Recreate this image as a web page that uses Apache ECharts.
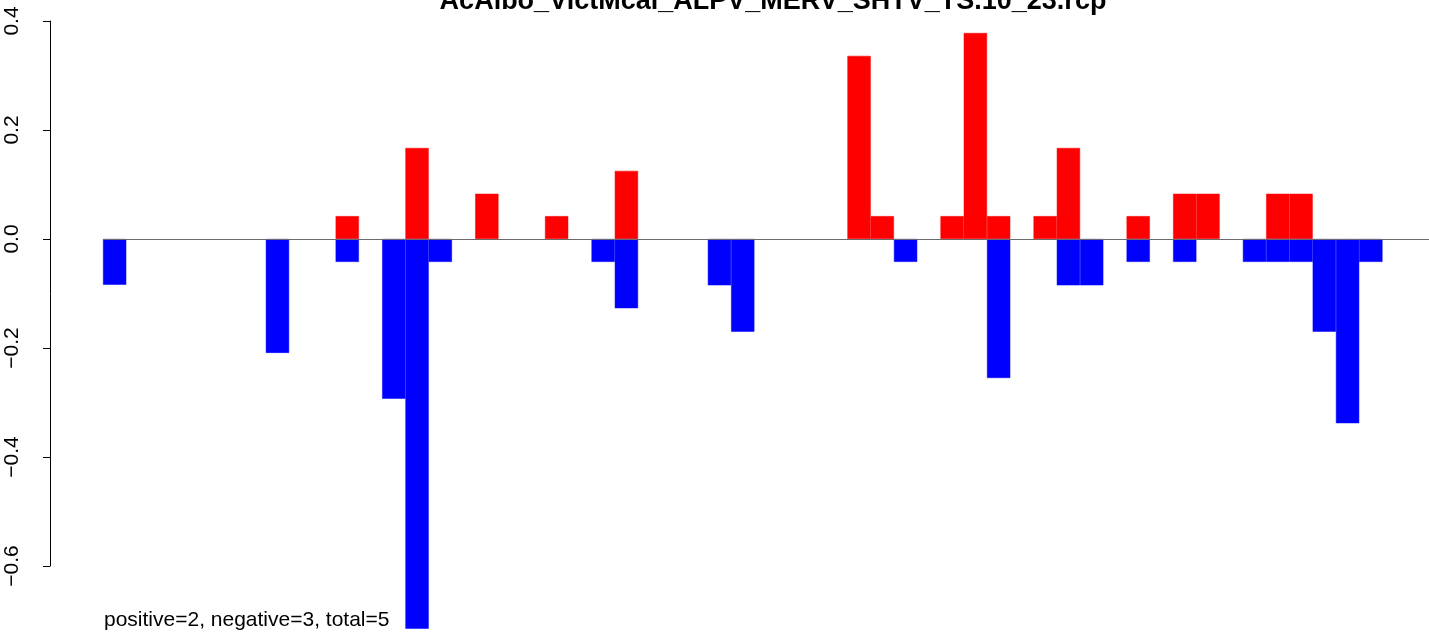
<!DOCTYPE html>
<html>
<head>
<meta charset="utf-8">
<script src="https://cdn.jsdelivr.net/npm/echarts@6/dist/echarts.min.js"></script>
<style>
html,body{margin:0;padding:0;background:#fff;}
#chart{width:1429px;height:634px;}
</style>
</head>
<body>
<div id="chart"></div>
<script>
// ---- data ----
var titleText = "AcAlbo_VictMcal_ALPV_MERV_SHTV_TS.10_23.rcp";
var noteText = "positive=2, negative=3, total=5";
var categories = [];
for (var i = 1; i <= 57; i++) categories.push(String(i));
var positiveValues = [
  0, 0, 0, 0, 0, 0, 0, 0, 0, 0,
  0.042, 0, 0, 0.167, 0, 0, 0.083, 0, 0, 0.042,
  0, 0, 0.125, 0, 0, 0, 0, 0, 0, 0,
  0, 0, 0.336, 0.042, 0, 0, 0.042, 0.378, 0.042, 0,
  0.042, 0.167, 0, 0, 0.042, 0, 0.083, 0.083, 0, 0,
  0.083, 0.083, 0, 0, 0, 0, 0
];
var negativeValues = [
  -0.084, 0, 0, 0, 0, 0, 0, -0.209, 0, 0,
  -0.042, 0, -0.293, -0.715, -0.042, 0, 0, 0, 0, 0,
  0, -0.042, -0.127, 0, 0, 0, -0.085, -0.17, 0, 0,
  0, 0, 0, 0, -0.042, 0, 0, 0, -0.255, 0,
  0, -0.085, -0.085, 0, -0.042, 0, -0.042, 0, 0, -0.042,
  -0.042, -0.042, -0.17, -0.338, -0.042, 0, 0
];
var yTicks = [-0.6, -0.4, -0.2, 0.0, 0.2, 0.4];

// zero-height bars are left empty so they draw nothing
function nonZero(arr) { return arr.map(function (v) { return v === 0 ? '-' : v; }); }

// ---- chart ----
var chart = echarts.init(document.getElementById('chart'), null, {renderer: 'canvas'});
var FONT = '"Liberation Sans", Arial, Helvetica, sans-serif';
chart.setOption({
  animation: false,
  backgroundColor: '#ffffff',
  title: {
    text: titleText,
    left: 768,
    top: -17,
    textAlign: 'center',
    textStyle: {fontFamily: FONT, fontWeight: 'bold', fontSize: 27, color: '#000'}
  },
  grid: {left: 103, right: -4, top: 21, bottom: 68, containLabel: false},
  xAxis: {
    type: 'category',
    data: categories,
    boundaryGap: true,
    axisLine: {show: false},
    axisTick: {show: false},
    axisLabel: {show: false},
    splitLine: {show: false}
  },
  yAxis: {
    type: 'value',
    min: yTicks[0],
    max: yTicks[yTicks.length - 1],
    interval: 0.2,
    offset: 53,
    axisLine: {show: true, lineStyle: {color: '#000', width: 1}},
    axisTick: {show: true, length: 7, lineStyle: {color: '#000', width: 1}},
    splitLine: {show: false},
    axisLabel: {
      rotate: 90,
      margin: 27,
      fontFamily: FONT,
      fontSize: 21,
      color: '#000',
      formatter: function (v) {
        var s = Math.abs(v).toFixed(1);
        return (v < -1e-9 ? '\u2212' : '') + s;
      }
    }
  },
  series: [
    {
      name: 'positive',
      type: 'bar',
      data: nonZero(positiveValues),
      barWidth: '100%',
      barGap: '-100%',
      clip: false,
      itemStyle: {color: '#ff0000', borderColor: '#ff0000', borderWidth: 0.5},
      silent: true
    },
    {
      name: 'negative',
      type: 'bar',
      data: nonZero(negativeValues),
      barWidth: '100%',
      barGap: '-100%',
      clip: false,
      itemStyle: {color: '#0000ff', borderColor: '#0000ff', borderWidth: 0.5},
      silent: true,
      markLine: {
        silent: true,
        symbol: 'none',
        label: {show: false},
        lineStyle: {color: '#6b6b6b', width: 1.2, type: 'solid'},
        data: [{yAxis: 0}],
        z: 10
      }
    }
  ],
  graphic: [
    {
      type: 'text',
      left: 104,
      top: 610,
      style: {text: noteText, font: '21px ' + FONT, fill: '#000'}
    }
  ]
});
</script>
</body>
</html>
